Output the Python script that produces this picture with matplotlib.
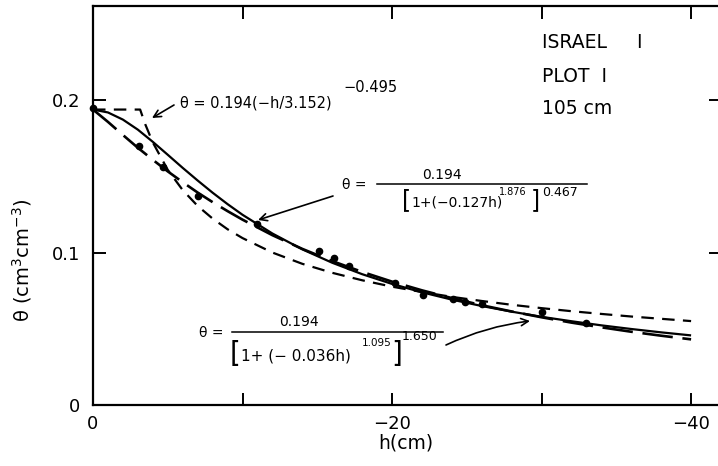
import matplotlib
matplotlib.use("Agg")
import matplotlib.pyplot as plt
from matplotlib.lines import Line2D
from matplotlib.ticker import FixedLocator, FixedFormatter

plt.rcParams['font.family'] = ['DejaVu Sans']
plt.rcParams['mathtext.fontset'] = 'dejavusans'
plt.rcParams['mathtext.default'] = 'regular'
plt.rcParams['lines.scale_dashes'] = False

# observed data (h in cm, theta in cm3/cm3)
h_obs = [0, -3.1, -4.7, -7.0, -11.0, -15.1, -16.1, -17.1, -20.2, -22.1, -24.1, -24.9, -26.0, -30.0, -33.0]
theta_obs = [0.195, 0.170, 0.156, 0.137, 0.119, 0.101, 0.0964, 0.091, 0.080, 0.072, 0.0695, 0.0675, 0.0665, 0.061, 0.054]

# solid curve: van Genuchten fit (n=1.876)
h_vg1 = [0, -1, -2, -3, -4, -5, -6, -7, -8, -9, -10, -12, -14, -16, -18, -20, -22, -24, -26, -28, -30, -32, -34, -36, -38, -40]
theta_vg1 = [0.194, 0.1921, 0.1874, 0.1808, 0.1728, 0.1643, 0.1557, 0.1474, 0.1394, 0.1319, 0.1249,
             0.1126, 0.1022, 0.0934, 0.0859, 0.0795, 0.0740, 0.0692, 0.0650, 0.0613, 0.0579,
             0.0550, 0.0523, 0.0499, 0.0477, 0.0457]

# long-dashed curve: van Genuchten fit (n=1.095)
h_vg2 = [0, -1, -2, -3, -4, -5, -6, -7, -8, -9, -10, -12, -14, -16, -18, -20, -22, -24, -26, -28, -30, -32, -34, -36, -38, -40]
theta_vg2 = [0.194, 0.1859, 0.1773, 0.1689, 0.1610, 0.1534, 0.1463, 0.1395, 0.1332, 0.1273, 0.1217,
             0.1115, 0.1025, 0.0945, 0.0874, 0.0810, 0.0753, 0.0702, 0.0655, 0.0614, 0.0576,
             0.0541, 0.0510, 0.0481, 0.0455, 0.0431]

# short-dashed curve: Brooks-Corey fit
h_bc = [0, -3.152, -3.5, -4, -5, -6, -7, -8, -9, -10, -12, -14, -16, -18, -20, -22, -24, -26, -28, -30, -32, -34, -36, -38, -40]
theta_bc = [0.194, 0.194, 0.1842, 0.1724, 0.1544, 0.1411, 0.1307, 0.1224, 0.1154, 0.1096, 0.1001,
            0.0927, 0.0868, 0.0819, 0.0777, 0.0742, 0.0710, 0.0683, 0.0658, 0.0636, 0.0616,
            0.0598, 0.0581, 0.0566, 0.0551]

x_major = [0, -20, -40]
x_major_labels = ['0', '\u221220', '\u221240']
x_minor = [-10, -30]
y_major = [0, 0.1, 0.2]
y_major_labels = ['0', '0.1', '0.2']

W, H = 718, 466
fig = plt.figure(figsize=(W / 100, H / 100), dpi=100)
ax = fig.add_axes([93 / W, 61 / H, 628 / W, 399 / H])

ax.plot(h_vg1, theta_vg1, color='black', lw=1.6, solid_capstyle='butt')
ax.plot(h_vg2, theta_vg2, color='black', lw=1.9, dashes=(22, 7))
ax.plot(h_bc, theta_bc, color='black', lw=1.6, dashes=(9, 6))
ax.plot(h_obs, theta_obs, 'o', color='black', ms=4.5, clip_on=False)

ax.set_xlim(0, -42)
ax.set_ylim(0, 0.262)

ax.xaxis.set_major_locator(FixedLocator(x_major))
ax.xaxis.set_major_formatter(FixedFormatter(x_major_labels))
ax.xaxis.set_minor_locator(FixedLocator(x_minor))
ax.yaxis.set_major_locator(FixedLocator(y_major))
ax.yaxis.set_major_formatter(FixedFormatter(y_major_labels))

ax.tick_params(axis='both', which='both', direction='in', top=True, right=True,
               length=9, width=1.4, labelsize=13)
ax.tick_params(axis='x', which='major', pad=7)
ax.tick_params(axis='y', which='major', pad=9)
for s in ax.spines.values():
    s.set_linewidth(1.6)


def T(x, y, s, size=10, ha='left', **kw):
    """Place text at reference pixel position (x from left, y from top)."""
    return fig.text(x / W, 1 - y / H, s, fontsize=size, ha=ha, va='center', **kw)


def bar(x1, x2, y):
    fig.add_artist(Line2D([x1 / W, x2 / W], [1 - y / H, 1 - y / H],
                          transform=fig.transFigure, color='black', lw=1.1))


def arrow(x1, y1, x2, y2, rad=0.0):
    ax.annotate('', xy=(x2, H - y2), xycoords='figure pixels',
                xytext=(x1, H - y1), textcoords='figure pixels',
                arrowprops=dict(arrowstyle='->', color='black', lw=1.2, mutation_scale=13,
                                shrinkA=0, shrinkB=0,
                                connectionstyle='arc3,rad=%g' % rad))


# axis labels
T(406, 443, 'h(cm)', size=13.5, ha='center')
T(22, 260, r'$\theta$ (cm$^{3}$cm$^{-3}$)', size=14, ha='center', rotation=90)

# site label
T(542, 43, 'ISRAEL     I', size=13.5)
T(542, 77, 'PLOT  I', size=13.5)
T(542, 108, '105 cm', size=13.5)

# Brooks-Corey formula
T(180, 103, '\u03b8 = 0.194(\u2212h/3.152)', size=10.5)
T(343, 88, '\u22120.495', size=10.5)
arrow(174, 105, 152, 118)

# van Genuchten (solid) formula
T(342, 185, '\u03b8 =', size=10)
T(442, 175, '0.194', size=10, ha='center')
bar(377, 587, 184)
T(402, 200, '[', size=17)
T(411, 202, '1+(\u22120.127h)', size=10)
T(499, 192, '1.876', size=7)
T(531, 200, ']', size=17)
T(542, 193, '0.467', size=9)
arrow(333, 196, 258, 220)

# van Genuchten (dashed) formula
T(199, 333, '\u03b8 =', size=10)
T(299, 322, '0.194', size=10, ha='center')
bar(232, 443, 332)
T(230, 354, '[', size=20)
T(241, 356, '1+ (\u2212 0.036h)', size=11)
T(362, 343, '1.095', size=7.5)
T(391, 354, ']', size=20)
T(402, 337, '1.650', size=9)
arrow(446, 345, 530, 321, rad=-0.08)

fig.savefig('out.png', dpi=100)
